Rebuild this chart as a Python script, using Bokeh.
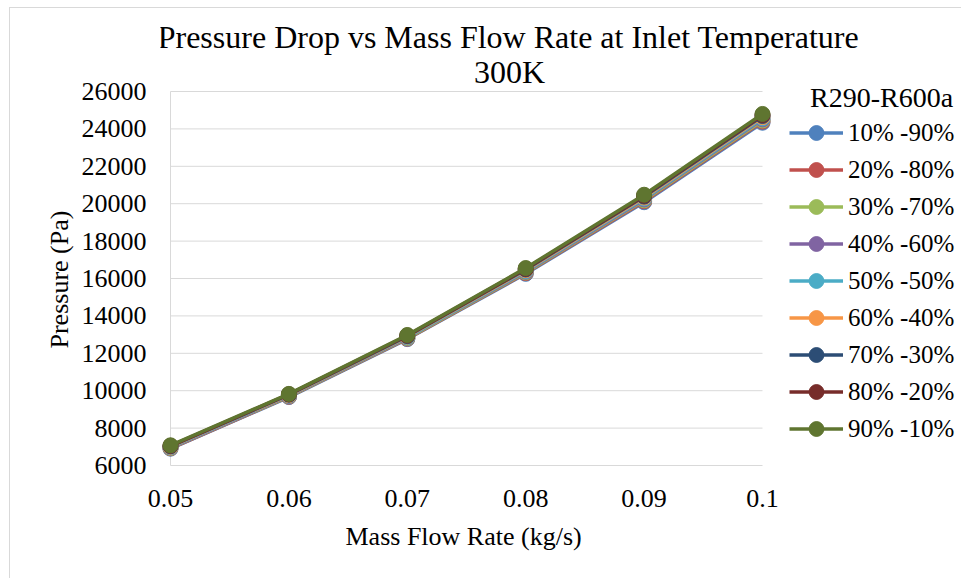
from bokeh.plotting import figure
from bokeh.models import Range1d, FixedTicker, Legend, LegendItem, Title, Label
from bokeh.embed import file_html
from bokeh.resources import INLINE

# ---------------- data ----------------
mass_flow = [0.05, 0.06, 0.07, 0.08, 0.09, 0.1]
x_tick_labels = ["0.05", "0.06", "0.07", "0.08", "0.09", "0.1"]
y_ticks = [6000, 8000, 10000, 12000, 14000, 16000, 18000, 20000, 22000, 24000, 26000]

series_names = ["10% -90%", "20% -80%", "30% -70%", "40% -60%", "50% -50%",
                "60% -40%", "70% -30%", "80% -20%", "90% -10%"]
series_colors = ["#4F81BD", "#C0504D", "#9BBB59", "#8064A2", "#4BACC6",
                 "#F79646", "#2C4D75", "#772C2A", "#5F7530"]

p10_90 = [6900, 9660, 12760, 16250, 20080, 24330]
p20_80 = [6920, 9680, 12785, 16290, 20130, 24390]
p30_70 = [6940, 9700, 12810, 16325, 20180, 24450]
p40_60 = [6960, 9720, 12840, 16365, 20230, 24510]
p50_50 = [6985, 9745, 12865, 16405, 20280, 24570]
p60_40 = [7005, 9765, 12895, 16445, 20330, 24630]
p70_30 = [7030, 9790, 12920, 16485, 20380, 24690]
p80_20 = [7055, 9810, 12950, 16520, 20430, 24745]
p90_10 = [7080, 9830, 12980, 16560, 20480, 24800]
series_values = [p10_90, p20_80, p30_70, p40_60, p50_50,
                 p60_40, p70_30, p80_20, p90_10]

legend_title = "R290-R600a"
title_line1 = "Pressure Drop vs Mass Flow Rate at Inlet Temperature"
title_line2 = "300K"
x_title = "Mass Flow Rate (kg/s)"
y_title = "Pressure (Pa)"

FONT = "Liberation Serif"
GRID = "#D9D9D9"

W, H = 961, 578
FL, FR, FT, FB = 170, 762, 91, 465            # plot-area edges of the reference
FRAME_L, FRAME_R, FRAME_T, FRAME_B = 160, 958, 0, 467   # bokeh frame (holds legend & titles)
x0, x1 = mass_flow[0], mass_flow[-1]
y0, y1 = y_ticks[0], y_ticks[-1]
ppx = (FR - FL) / (x1 - x0)
ppy = (FB - FT) / (y1 - y0)

p = figure(width=W, height=H, output_backend="svg", toolbar_location=None,
           x_range=Range1d(x0 - (FL - FRAME_L) / ppx, x1 + (FRAME_R - FR) / ppx),
           y_range=Range1d(y0 - (FRAME_B - FB) / ppy, y1 + (FT - FRAME_T) / ppy),
           min_border_left=FRAME_L, min_border_right=W - FRAME_R,
           min_border_top=FRAME_T, min_border_bottom=H - FRAME_B)
p.outline_line_color = None
p.background_fill_color = None
p.border_fill_color = None
p.styles = {
    "background-color": "white",
    "background-image": "linear-gradient(#D9D9D9, #D9D9D9), linear-gradient(#D9D9D9, #D9D9D9)",
    "background-size": "1px 100%, 100% 1px",
    "background-position": "9px 7px, 9px 7px",
    "background-repeat": "no-repeat",
}

# axes (tick labels only; lines drawn below)
p.xaxis.ticker = FixedTicker(ticks=mass_flow)
p.xaxis.major_label_overrides = {t: l for t, l in zip(mass_flow, x_tick_labels)}
p.yaxis.ticker = FixedTicker(ticks=y_ticks)
for ax in (p.xaxis, p.yaxis):
    ax.axis_line_color = None
    ax.major_tick_line_color = None
    ax.minor_tick_line_color = None
    ax.major_label_text_font = FONT
    ax.major_label_text_font_size = "26px"
    ax.major_label_text_color = "#000000"
p.xaxis.major_label_standoff = 16
p.yaxis.major_label_standoff = 8

p.xgrid.grid_line_color = None
p.ygrid.grid_line_color = None
# horizontal grid lines and the value-axis line, limited to the data area
p.segment(x0=[x0] * len(y_ticks), x1=[x1] * len(y_ticks), y0=y_ticks, y1=y_ticks,
          line_color=GRID, line_width=1)
p.segment(x0=[x0], x1=[x0], y0=[y0], y1=[y1], line_color=GRID, line_width=1)

items = []
for name, color, vals in zip(series_names, series_colors, series_values):
    r1 = p.line(mass_flow, vals, line_color=color, line_width=3.5)
    r2 = p.scatter(mass_flow, vals, marker="circle", size=15,
                   fill_color=color, line_color=color)
    items.append(LegendItem(label=name, renderers=[r1, r2]))

legend = Legend(items=items, location=(789 - FRAME_L, 20),
                title="\u00a0\u00a0\u00a0" + legend_title,
                title_text_font=FONT, title_text_font_size="28px",
                title_text_font_style="normal", title_text_color="#000000",
                title_standoff=0,
                glyph_width=54, glyph_height=37, label_height=37,
                spacing=0, padding=0, margin=0, label_standoff=5,
                label_text_font=FONT, label_text_font_size="25px",
                label_text_color="#000000",
                border_line_color=None, background_fill_alpha=0)
p.add_layout(legend, "center")

# chart title (two lines), inside the enlarged frame
for txt, cx, cy in ((title_line1, 508, 36), (title_line2, 509, 71)):
    p.add_layout(Label(x=cx - FRAME_L, y=FRAME_B - cy, x_units="screen", y_units="screen",
                       text=txt, text_font=FONT, text_font_size="32px",
                       text_align="center", text_baseline="middle", text_color="#000000"))

# axis titles
p.add_layout(Title(text=x_title, align="left", offset=345 - FRAME_L,
                   text_font=FONT, text_font_size="26px", text_font_style="normal",
                   text_color="#000000", standoff=20), "below")
p.add_layout(Title(text=y_title, align="left", offset=FRAME_B - 348,
                   text_font=FONT, text_font_size="26px", text_font_style="normal",
                   text_color="#000000", standoff=10), "left")

open("out.html", "w").write(file_html(p, INLINE))
